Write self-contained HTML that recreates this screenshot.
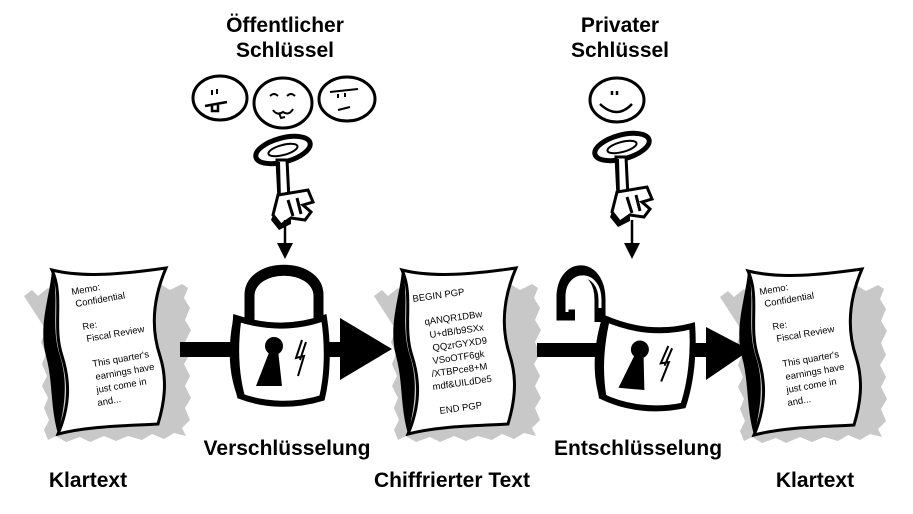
<!DOCTYPE html>
<html><head><meta charset="utf-8"><style>
html,body{margin:0;padding:0;background:#fff;width:913px;height:514px;overflow:hidden}
text{font-family:"Liberation Sans",sans-serif}
.b{font-weight:bold;font-size:21px;text-anchor:middle;fill:#000}
.d{font-size:9.5px;fill:#000}
</style></head><body>
<svg width="913" height="514" viewBox="0 0 913 514" xmlns="http://www.w3.org/2000/svg">
<defs>
<g id="doc">
<path d="M0,20 l8,-6 6,6 10,-8 8,6 12,-6 8,4 14,-5 10,5 12,-4 12,4 12,-6 14,6 10,-8 10,6 12,-6 6,4 -4,10 6,10 -5,12 6,10 -6,12 5,12 -6,10 6,12 -5,10 6,12 -6,10 5,12 -8,8 4,8 -12,-3 -10,6 -12,-5 -10,6 -14,-4 -12,5 -12,-5 -14,6 -10,-5 -14,5 -10,-6 -8,4 -4,-10 5,-10 -5,-12 4,-10 -6,-12 5,-10 -5,-12 4,-10 -5,-12 5,-12z" fill="#c8c8c8"/>
<path d="M28,-6 C60,2 100,-2 142,-8 C130,20 126,50 136,80 C144,105 140,128 134,148 C100,150 65,150 34,158 C46,130 46,105 38,80 C28,50 40,20 28,-6z" fill="#fff" stroke="#000" stroke-width="3"/>
<path d="M28,-6 C36,20 26,50 36,80 C44,105 41,130 34,158 C26,130 29,105 22,80 C14,50 26,20 28,-6z" fill="#000"/>
</g>
<g id="key">
<ellipse cx="0" cy="0" rx="28" ry="12" fill="#fff" stroke="#000" stroke-width="5" transform="rotate(-15)"/>
<ellipse cx="0" cy="0" rx="15" ry="5" fill="#fff" stroke="#000" stroke-width="2" transform="rotate(-15)"/>
<path d="M-6,10 L-4,50 L6,50 L4,10z" fill="#fff" stroke="#000" stroke-width="3"/>
<path d="M-6,12 L-5,50 L-2,50 L-3,12z" fill="#000"/>
<path d="M-5,45 L25,40 L30,52 L20,55 L28,62 L22,70 L8,68 L-2,75 L-10,65 z" fill="#fff" stroke="#000" stroke-width="3"/>
<path d="M-10,65 L-2,75 L8,68 L8,74 L-4,80 L-12,70z" fill="#000"/>
<path d="M5,50 L10,66 M14,48 L18,64" stroke="#000" stroke-width="3"/>
</g>
<g id="body">
<path d="M0,0 C30,10 60,10 88,0 C92,25 92,55 86,80 C60,88 30,88 4,78 C-2,55 -2,25 0,0z" fill="#fff" stroke="#000" stroke-width="6"/>
<path d="M-3,2 C-8,28 -8,55 2,80 L10,82 C2,55 2,28 5,4z" fill="#000"/>
<circle cx="38" cy="28" r="9" fill="#000"/>
<path d="M34,32 L20,68 L46,68 L42,32z" fill="#000"/>
<path d="M66,22 L60,40 L68,38 L62,58 M70,24 L64,42" stroke="#000" stroke-width="2" fill="none"/>
</g>
</defs>

<text class="b" x="285" y="32">Öffentlicher</text>
<text class="b" x="285" y="57">Schlüssel</text>
<text class="b" x="620" y="32">Privater</text>
<text class="b" x="620" y="57">Schlüssel</text>

<ellipse cx="220" cy="98" rx="27" ry="22" fill="#fff" stroke="#000" stroke-width="3"/>
<path d="M212,90 l0,5 M217,89 l0,5" stroke="#000" stroke-width="2"/>
<path d="M205,106 l22,-4 M212,106 l0,5 l6,0 l0,-6" stroke="#000" stroke-width="2.5" fill="none"/>
<ellipse cx="283" cy="103" rx="29" ry="25" fill="#fff" stroke="#000" stroke-width="3"/>
<path d="M270,96 q4,-4 8,0 M287,96 q4,-4 8,0" stroke="#000" stroke-width="2" fill="none"/>
<path d="M273,110 q4,6 10,2 q6,4 10,-3 M279,113 l2,5 l4,-1" stroke="#000" stroke-width="2" fill="none"/>
<ellipse cx="347" cy="99" rx="28" ry="22" fill="#fff" stroke="#000" stroke-width="3"/>
<path d="M330,92 l28,-3 M338,94 l0,4 M345,93 l0,4 M338,110 l12,-3" stroke="#000" stroke-width="2" fill="none"/>
<ellipse cx="617" cy="100" rx="27" ry="22" fill="#fff" stroke="#000" stroke-width="3"/>
<path d="M612,91 l0,4 M617,91 l0,4" stroke="#000" stroke-width="2.5"/>
<path d="M600,104 q17,16 32,0" stroke="#000" stroke-width="2.5" fill="none"/>

<use href="#key" x="283" y="150"/>
<use href="#key" x="622" y="147"/>

<path d="M285,220 L285,245" stroke="#000" stroke-width="2.5"/>
<path d="M277,243 L293,243 L285,259z" fill="#000"/>
<path d="M632,220 L632,245" stroke="#000" stroke-width="2.5"/>
<path d="M624,243 L640,243 L632,259z" fill="#000"/>

<use href="#doc" x="24" y="276"/>
<use href="#doc" x="374" y="276"/>
<use href="#doc" x="720" y="277"/>

<g class="d">
<text x="72" y="295" transform="rotate(-10 72 295)">Memo:</text>
<text x="76" y="307" transform="rotate(-10 76 307)">Confidential</text>
<text x="83" y="330" transform="rotate(-10 83 330)">Re:</text>
<text x="87" y="342" transform="rotate(-10 87 342)">Fiscal Review</text>
<text x="93" y="367" transform="rotate(-10 93 367)">This quarter's</text>
<text x="96" y="380" transform="rotate(-10 96 380)">earnings have</text>
<text x="97" y="393" transform="rotate(-10 97 393)">just come in</text>
<text x="98" y="406" transform="rotate(-10 98 406)">and...</text>

<text x="413" y="302" transform="rotate(-8 413 302)">BEGIN PGP</text>
<text x="425" y="325" transform="rotate(-8 425 325)">qANQR1DBw</text>
<text x="430" y="338" transform="rotate(-8 430 338)">U+dB/b9SXx</text>
<text x="433" y="351" transform="rotate(-8 433 351)">QQzrGYXD9</text>
<text x="433" y="364" transform="rotate(-8 433 364)">VSoOTF6gk</text>
<text x="432" y="377" transform="rotate(-8 432 377)">/XTBPce8+M</text>
<text x="433" y="390" transform="rotate(-8 433 390)">mdf&amp;UILdDe5</text>
<text x="440" y="414" transform="rotate(-8 440 414)">END PGP</text>

<text x="760" y="295" transform="rotate(-10 760 295)">Memo:</text>
<text x="765" y="307" transform="rotate(-10 765 307)">Confidential</text>
<text x="773" y="330" transform="rotate(-10 773 330)">Re:</text>
<text x="777" y="342" transform="rotate(-10 777 342)">Fiscal Review</text>
<text x="783" y="367" transform="rotate(-10 783 367)">This quarter's</text>
<text x="786" y="380" transform="rotate(-10 786 380)">earnings have</text>
<text x="787" y="393" transform="rotate(-10 787 393)">just come in</text>
<text x="788" y="406" transform="rotate(-10 788 406)">and...</text>
</g>

<rect x="180" y="342" width="170" height="15" fill="#000"/>
<path d="M340,318 L392,349 L340,380z" fill="#000"/>
<rect x="537" y="343" width="175" height="14" fill="#000"/>
<path d="M706,327 L750,350 L706,380z" fill="#000"/>

<path d="M250,322 L250,295 C250,262 318,262 318,295 L318,322" fill="none" stroke="#000" stroke-width="11"/>
<path d="M256,322 L256,296 C256,272 312,272 312,296 L312,322" fill="none" stroke="#fff" stroke-width="3"/>
<use href="#body" x="236" y="318"/>
<path d="M600,322 L600,300 C600,262 564,262 562,295 L562,315 L575,315" fill="none" stroke="#000" stroke-width="11"/>
<path d="M600,308 L600,300 C600,270 568,270 567,295 L567,312" fill="none" stroke="#fff" stroke-width="3"/>
<use href="#body" x="601" y="322" transform="rotate(5 645 360)"/>

<text class="b" x="287" y="455">Verschlüsselung</text>
<text class="b" x="638" y="455">Entschlüsselung</text>
<text class="b" x="88" y="487">Klartext</text>
<text class="b" x="452" y="487">Chiffrierter Text</text>
<text class="b" x="815" y="487">Klartext</text>
</svg>
</body></html>
